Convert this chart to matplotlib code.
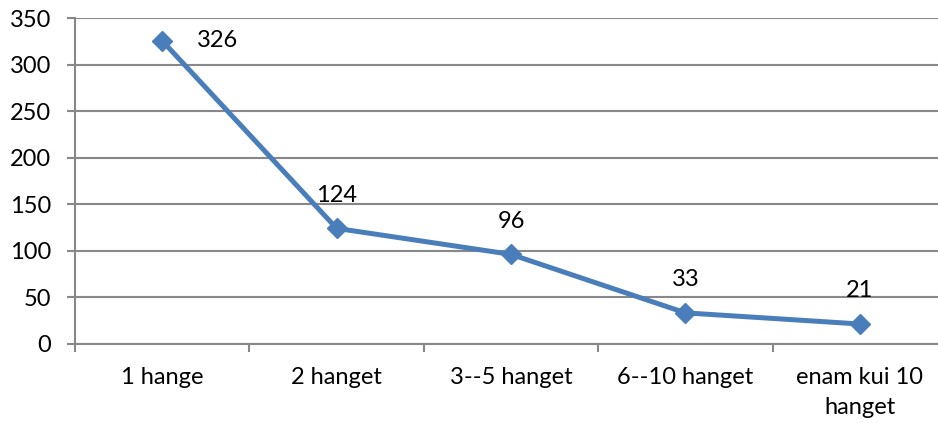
import matplotlib.pyplot as plt
import numpy as np

# data
categories = ["1 hange", "2 hanget", "3--5 hanget", "6--10 hanget", "enam kui 10\nhanget"]
values = [326, 124, 96, 33, 21]
y_ticks = [0, 50, 100, 150, 200, 250, 300, 350]

plt.rcParams['font.family'] = ['Lato', 'DejaVu Sans']
FS = 17

W, H = 938, 423
fig = plt.figure(figsize=(W / 100, H / 100), dpi=100)
# plot area runs past the right edge of the image, like the original
ax = fig.add_axes([75 / W, 1 - 343.5 / H, 872 / W, 325 / H])

line_col = '#4A7EBB'
grid_col = '#888888'

x = np.arange(len(categories))
ax.plot(x, values, color=line_col, lw=3.6, marker='D', ms=10.5, mfc=line_col, mec=line_col,
        zorder=3, clip_on=False)

# value labels
for i, v in enumerate(values):
    if i == 0:
        ax.annotate(str(v), (i, v), xytext=(40, 0), textcoords='offset points',
                    ha='center', va='center', fontsize=FS)
    else:
        ax.annotate(str(v), (i, v), xytext=(0, 24), textcoords='offset points',
                    ha='center', va='center', fontsize=FS)

ax.set_xlim(-0.5, len(categories) - 0.5)
ax.set_ylim(0, 350)
ax.set_yticks(y_ticks)
ax.set_yticklabels([str(t) for t in y_ticks], fontsize=FS)
ax.yaxis.grid(True, color=grid_col, lw=1.5)
ax.set_axisbelow(True)

# category ticks at boundaries, labels at centres
ax.set_xticks(np.arange(-0.5, len(categories), 1.0))
ax.set_xticklabels([])
ax.set_xticks(x, minor=True)
ax.set_xticklabels(categories, minor=True, fontsize=FS, linespacing=1.55)
ax.tick_params(axis='x', which='minor', length=0, pad=17)
ax.tick_params(axis='x', which='major', length=6, width=1.5, color=grid_col)
ax.tick_params(axis='y', length=6, width=1.5, color=grid_col, pad=11)

for s in ['top', 'right']:
    ax.spines[s].set_visible(False)
for s in ['left', 'bottom']:
    ax.spines[s].set_color(grid_col)
    ax.spines[s].set_linewidth(1.5)

fig.savefig('out.png', dpi=100)
